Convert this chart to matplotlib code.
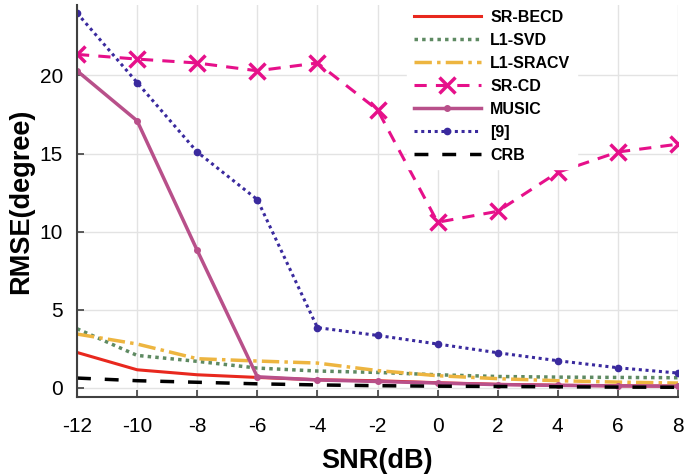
import numpy as np
import matplotlib.pyplot as plt

plt.rcParams['font.family'] = ['Liberation Sans', 'DejaVu Sans']
plt.rcParams['axes.unicode_minus'] = False

snr = [-12, -10, -8, -6, -4, -2, 0, 2, 4, 6, 8]
sr_becd = [2.26, 1.15, 0.83, 0.66, 0.51, 0.45, 0.32, 0.22, 0.16, 0.12, 0.10]
l1_svd = [3.78, 2.07, 1.69, 1.26, 1.07, 0.98, 0.83, 0.72, 0.68, 0.66, 0.64]
l1_sracv = [3.44, 2.80, 1.86, 1.71, 1.58, 1.10, 0.77, 0.58, 0.45, 0.36, 0.30]
sr_cd = [21.35, 21.05, 20.8, 20.3, 20.8, 17.8, 10.6, 11.3, 13.8, 15.1, 15.6]
music = [20.3, 17.1, 8.8, 0.7, 0.5, 0.4, 0.3, 0.2, 0.15, 0.12, 0.1]
ref9 = [24.0, 19.55, 15.1, 12.05, 3.85, 3.35, 2.8, 2.24, 1.73, 1.28, 0.94]
crb = [0.62, 0.45, 0.35, 0.25, 0.18, 0.13, 0.10, 0.08, 0.06, 0.04, 0.03]

fig = plt.figure(figsize=(6.85, 4.75), dpi=100)
ax = fig.add_axes([0.1124, 0.164, 0.8774, 0.825])

ax.plot(snr, sr_becd, color='#E8281E', lw=2.2, label='SR-BECD')
ax.plot(snr, l1_svd, color='#5E8A62', lw=2.5, ls=(0, (1, 1.2)), label='L1-SVD')
ax.plot(snr, l1_sracv, color='#EDB540', lw=2.5, ls=(0, (5, 1.5, 1, 1.5)), label='L1-SRACV')
ax.plot(snr, sr_cd, color='#E6108A', lw=2.2, ls=(0, (4, 3)), marker='x', ms=11, mew=2.5, label='SR-CD')
ax.plot(snr, music, color='#B8508A', lw=2.5, marker='.', ms=8, label='MUSIC')
ax.plot(snr, ref9, color='#3A2A9E', lw=2.2, ls=(0, (1, 1.2)), marker='.', ms=9, label='[9]')
ax.plot(snr, crb, color='black', lw=2.5, ls=(0, (4, 4)), label='CRB')

ax.set_xlim(-12, 8)
ax.set_ylim(-0.6, 24.5)
ax.set_xticks(np.arange(-12, 9, 2))
ax.set_yticks([0, 5, 10, 15, 20])
ax.grid(True, color='#E3E3E3', lw=1)
ax.set_axisbelow(True)
for s in ['top', 'right']:
    ax.spines[s].set_visible(False)
for s in ['left', 'bottom']:
    ax.spines[s].set_color('#404040')
    ax.spines[s].set_linewidth(1.5)
ax.tick_params(direction='in', length=5, width=1.2, color='#404040', labelsize=15)
ax.tick_params(axis='x', pad=14)
ax.tick_params(axis='y', pad=10)

ax.set_xlabel('SNR(dB)', fontsize=19.5, fontweight='bold', labelpad=9)
ax.set_ylabel('RMSE(degree)', fontsize=19.5, fontweight='bold', labelpad=4)

leg = ax.legend(loc='upper right', bbox_to_anchor=(0.845, 1.025), frameon=True, fancybox=False,
                edgecolor='white', framealpha=1, handlelength=4.2, handletextpad=0.6,
                prop={'weight': 'bold', 'size': 11.5}, labelspacing=0.5)

plt.savefig('out.png', dpi=100)
